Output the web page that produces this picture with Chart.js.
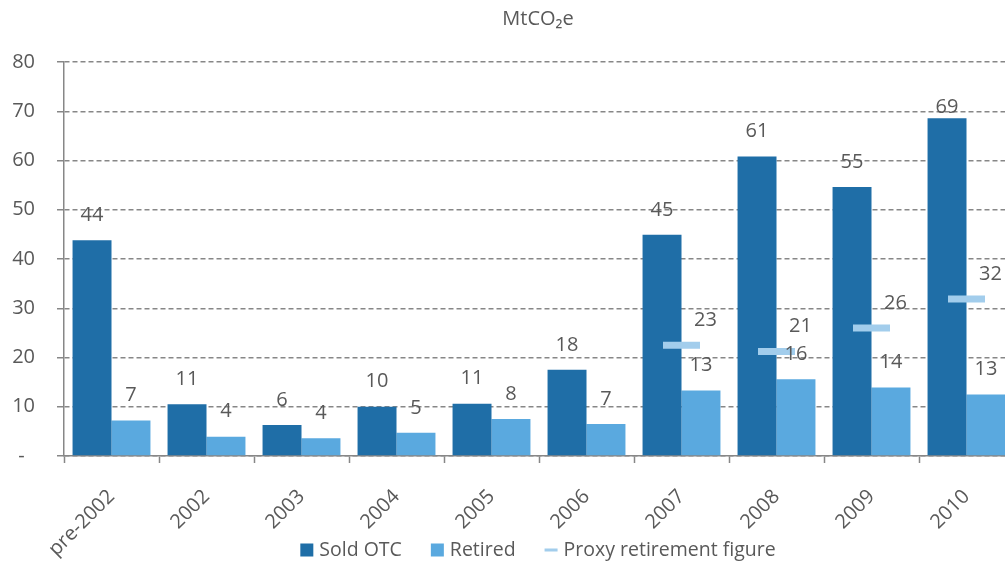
<!DOCTYPE html>
<html>
<head>
<meta charset="utf-8">
<script src="https://cdn.jsdelivr.net/npm/chart.js@4"></script>
<style>
  html, body { margin: 0; padding: 0; background: #fff; overflow: hidden; }
</style>
</head>
<body>
<canvas id="chart" width="1076" height="564"></canvas>
<script>
const categories = ["pre-2002", "2002", "2003", "2004", "2005", "2006", "2007", "2008", "2009", "2010"];
const soldOTC = [43.8, 10.5, 6.3, 10.0, 10.6, 17.5, 44.9, 60.8, 54.6, 68.6];
const retired = [7.2, 3.9, 3.6, 4.7, 7.5, 6.5, 13.3, 15.6, 13.9, 12.5];
const proxyRetirement = [null, null, null, null, null, null, 22.5, 21.2, 26.0, 31.9];
const yTicks = [0, 10, 20, 30, 40, 50, 60, 70, 80];

const textColor = "#595959";
const gridColor = "#878787";
const fontFamily = "'Open Sans', sans-serif";

// value labels above bars and beside the proxy markers
const valueLabels = {
  id: "valueLabels",
  afterDatasetsDraw(chart) {
    const ctx = chart.ctx;
    ctx.save();
    ctx.font = "20px " + fontFamily;
    ctx.fillStyle = textColor;
    ctx.textAlign = "center";
    ctx.textBaseline = "middle";
    chart.data.datasets.forEach((ds, i) => {
      const meta = chart.getDatasetMeta(i);
      meta.data.forEach((el, j) => {
        const v = ds.data[j];
        if (v === null) return;
        let x = el.x;
        let y = el.y - 25;
        if (ds.type === "line") {
          x += 24;
        } else {
          y = Math.max(y, chart.chartArea.top + 45);
        }
        ctx.fillText(String(Math.round(v)), x, y);
      });
    });
    ctx.restore();
  }
};

// unit caption on top and the legend row at the bottom
const captions = {
  id: "captions",
  afterDraw(chart) {
    const ctx = chart.ctx;
    ctx.save();
    ctx.fillStyle = textColor;
    ctx.textBaseline = "middle";
    ctx.font = "20px " + fontFamily;
    ctx.textAlign = "center";
    ctx.fillText("MtCO\u2082e", 538, 19);

    ctx.font = "19.5px " + fontFamily;
    ctx.textAlign = "left";
    const centerX = 538, y = 550, box = 13, gap = 6, spacing = 29;
    const items = chart.data.datasets.map((ds) => ({
      text: ds.label,
      isLine: ds.type === "line",
      color: ds.type === "line" ? ds.pointBorderColor : ds.backgroundColor,
      w: box + gap + ctx.measureText(ds.label).width,
    }));
    const total = items.reduce((s, it) => s + it.w, 0) + spacing * (items.length - 1);
    let x = centerX - total / 2;
    items.forEach((it) => {
      ctx.fillStyle = it.color;
      if (it.isLine) ctx.fillRect(x, y - 1.5, box, 3);
      else ctx.fillRect(x, y - box / 2, box, box);
      ctx.fillStyle = textColor;
      ctx.fillText(it.text, x + box + gap, y);
      x += it.w + spacing;
    });
    ctx.restore();
  }
};

new Chart(document.getElementById("chart"), {
  type: "bar",
  data: {
    labels: categories,
    datasets: [
      {
        label: "Sold OTC",
        data: soldOTC,
        backgroundColor: "#1f6ea7",
        barPercentage: 1,
        categoryPercentage: 0.82,
        order: 2,
      },
      {
        label: "Retired",
        data: retired,
        backgroundColor: "#5aa9df",
        barPercentage: 1,
        categoryPercentage: 0.82,
        order: 2,
      },
      {
        type: "line",
        label: "Proxy retirement figure",
        data: proxyRetirement,
        showLine: false,
        pointStyle: "line",
        pointRadius: 18.5,
        pointHoverRadius: 18.5,
        pointBorderWidth: 7,
        pointBorderColor: "#a2cdec",
        pointBackgroundColor: "#a2cdec",
        borderColor: "#a2cdec",
        backgroundColor: "#a2cdec",
        order: 1,
      },
    ],
  },
  options: {
    responsive: false,
    animation: false,
    layout: {
      padding: { top: 62, right: 62, left: 0, bottom: 0 },
    },
    plugins: {
      legend: { display: false },
      tooltip: { enabled: false },
    },
    scales: {
      x: {
        afterFit(scale) {
          scale.height = 108;
        },
        grid: {
          display: true,
          drawOnChartArea: false,
          offset: true,
          tickLength: 7,
          tickColor: gridColor,
          tickWidth: 1.5,
        },
        border: { color: gridColor, width: 1.5 },
        ticks: {
          color: textColor,
          font: { family: fontFamily, size: 20 },
          minRotation: 45,
          maxRotation: 45,
          padding: 22,
        },
      },
      y: {
        min: 0,
        max: 80,
        afterBuildTicks(scale) {
          scale.ticks = yTicks.map((v) => ({ value: v }));
        },
        afterFit(scale) {
          scale.width = 64;
        },
        grid: {
          color: gridColor,
          lineWidth: 1.5,
          tickLength: 7,
          tickColor: gridColor,
          tickWidth: 1.5,
        },
        border: { color: gridColor, width: 1.5, dash: [5, 3] },
        ticks: {
          color: textColor,
          font: { family: fontFamily, size: 20 },
          padding: 22,
          callback: (v) => (v === 0 ? "-  " : String(v)),
        },
      },
    },
  },
  plugins: [valueLabels, captions],
});
</script>
</body>
</html>
